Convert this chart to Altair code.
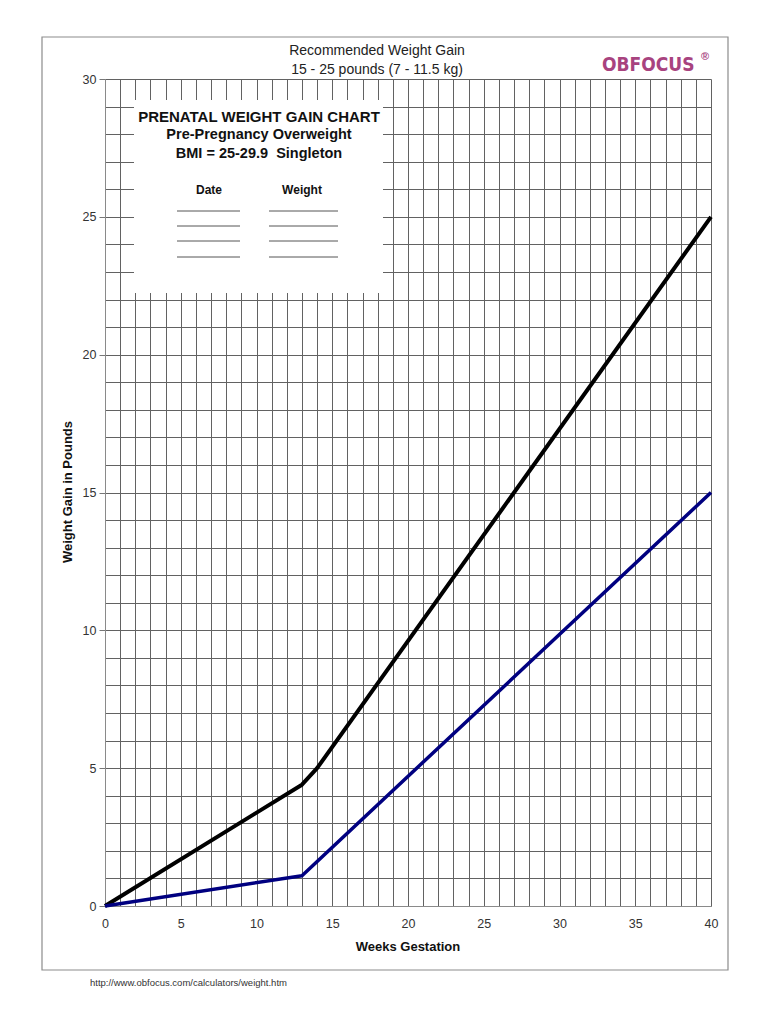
import altair as alt
import pandas as pd

# ---- data ----
weeks_upper = [0, 13, 14, 40]
gain_upper = [0.0, 4.4, 5.0, 25.0]
weeks_lower = [0, 13, 40]
gain_lower = [0.0, 1.1, 15.0]

x_grid_values = list(range(0, 41))
y_grid_values = list(range(0, 31))

title_lines = ["Recommended Weight Gain", "15 - 25 pounds (7 - 11.5 kg)"]
inset_lines = ["PRENATAL WEIGHT GAIN CHART", "Pre-Pregnancy Overweight", "BMI = 25-29.9\u00a0\u00a0Singleton"]
column_heads = ["Date", "Weight"]
x_title = "Weeks Gestation"
y_title = "Weight Gain in Pounds"
url_text = "http://www.obfocus.com/calculators/weight.htm"
logo_text = "OBFOCUS"

FONT = "Liberation Sans"
GRID = "#626262"

upper = pd.DataFrame({"week": weeks_upper, "gain": gain_upper})
lower = pd.DataFrame({"week": weeks_lower, "gain": gain_lower})
one = pd.DataFrame({"k": [0]})

xscale = alt.Scale(domain=[0, 40], nice=False, zero=False)
yscale = alt.Scale(domain=[0, 30], nice=False, zero=False)

xaxis = alt.Axis(
    values=x_grid_values, title=None, grid=True, gridColor=GRID, gridWidth=1,
    labelExpr="datum.value % 5 == 0 ? datum.label : ''",
    ticks=False, labelPadding=11, labelFont=FONT, labelFontSize=12.5,
    labelColor="#333333", domainColor="#8a8a8a", labelFlush=False, labelOverlap=False,
)
yaxis = alt.Axis(
    values=y_grid_values, title=None, grid=True, gridColor=GRID, gridWidth=1,
    labelExpr="datum.value % 5 == 0 ? datum.label : ''",
    ticks=True, tickSize=6, tickColor="#777777",
    tickOpacity={"condition": {"test": "datum.value % 5 == 0", "value": 1}, "value": 0},
    labelPadding=3, labelFont=FONT, labelFontSize=12.5, labelColor="#333333",
    domainColor="#8a8a8a", labelFlush=False, labelOverlap=False,
)

frame = alt.Chart(one).mark_rect(filled=False, stroke="#8c8c8c", strokeWidth=1.2).encode(
    x=alt.value(-63), x2=alt.value(623), y=alt.value(-42), y2=alt.value(891)
)

upper_line = alt.Chart(upper).mark_line(color="#000000", strokeWidth=4, strokeJoin="round").encode(
    x=alt.X("week:Q", scale=xscale, axis=xaxis),
    y=alt.Y("gain:Q", scale=yscale, axis=yaxis),
)
lower_line = alt.Chart(lower).mark_line(color="#000080", strokeWidth=3.5, strokeJoin="round").encode(
    x=alt.X("week:Q", scale=xscale, axis=xaxis),
    y=alt.Y("gain:Q", scale=yscale, axis=yaxis),
)

inset_box = alt.Chart(one).mark_rect(fill="white", stroke=None).encode(
    x=alt.value(29), x2=alt.value(278), y=alt.value(21), y2=alt.value(214)
)

def txt(s, x, y, size=12, bold=False, color="#000000", align="center", angle=0, font=FONT):
    kw = dict(text=s, font=font, fontSize=size, color=color, align=align, baseline="middle")
    if bold:
        kw["fontWeight"] = "bold"
    if angle:
        kw["angle"] = angle
    return alt.Chart(one).mark_text(**kw).encode(x=alt.value(x), y=alt.value(y))

texts = [
    txt(title_lines[0], 272, -28, size=14, color="#222222"),
    txt(title_lines[1], 272, -9, size=14, color="#222222"),
    txt(inset_lines[0], 154, 38, size=15, bold=True, color="#111111"),
    txt(inset_lines[1], 154, 56, size=14.5, bold=True, color="#111111"),
    txt(inset_lines[2], 154, 75, size=14.5, bold=True, color="#111111"),
    txt(column_heads[0], 104, 111, size=12, bold=True, color="#111111"),
    txt(column_heads[1], 197, 111, size=12, bold=True, color="#111111"),
    txt(x_title, 303, 868, size=13, bold=True, color="#111111"),
    txt(y_title, -37, 413, size=13, bold=True, angle=270, color="#111111"),
    txt(url_text, -15, 904, size=9.5, color="#333333", align="left"),
    txt(logo_text, 497, -14, size=19, bold=True, color="#A8437F", align="left", font="DejaVu Sans Condensed"),
    txt("\u00ae", 596, -22, size=11, bold=True, color="#A8437F", align="left"),
]

underline_rows = [132, 147, 162, 178]
underlines = []
for yy in underline_rows:
    underlines.append(alt.Chart(one).mark_rule(color="#555555", strokeWidth=1).encode(
        x=alt.value(72), x2=alt.value(135), y=alt.value(yy)))
    underlines.append(alt.Chart(one).mark_rule(color="#555555", strokeWidth=1).encode(
        x=alt.value(164), x2=alt.value(233), y=alt.value(yy)))

chart = alt.layer(
    upper_line, lower_line, frame, inset_box, *underlines, *texts
).properties(
    width=606, height=827,
    autosize=alt.AutoSizeParams(type="none"),
    padding={"left": 97, "top": 71, "right": 51, "bottom": 110},
    background="white",
).configure_view(stroke=None)

chart.save("out.html", embed_options={"renderer": "svg", "actions": False})
